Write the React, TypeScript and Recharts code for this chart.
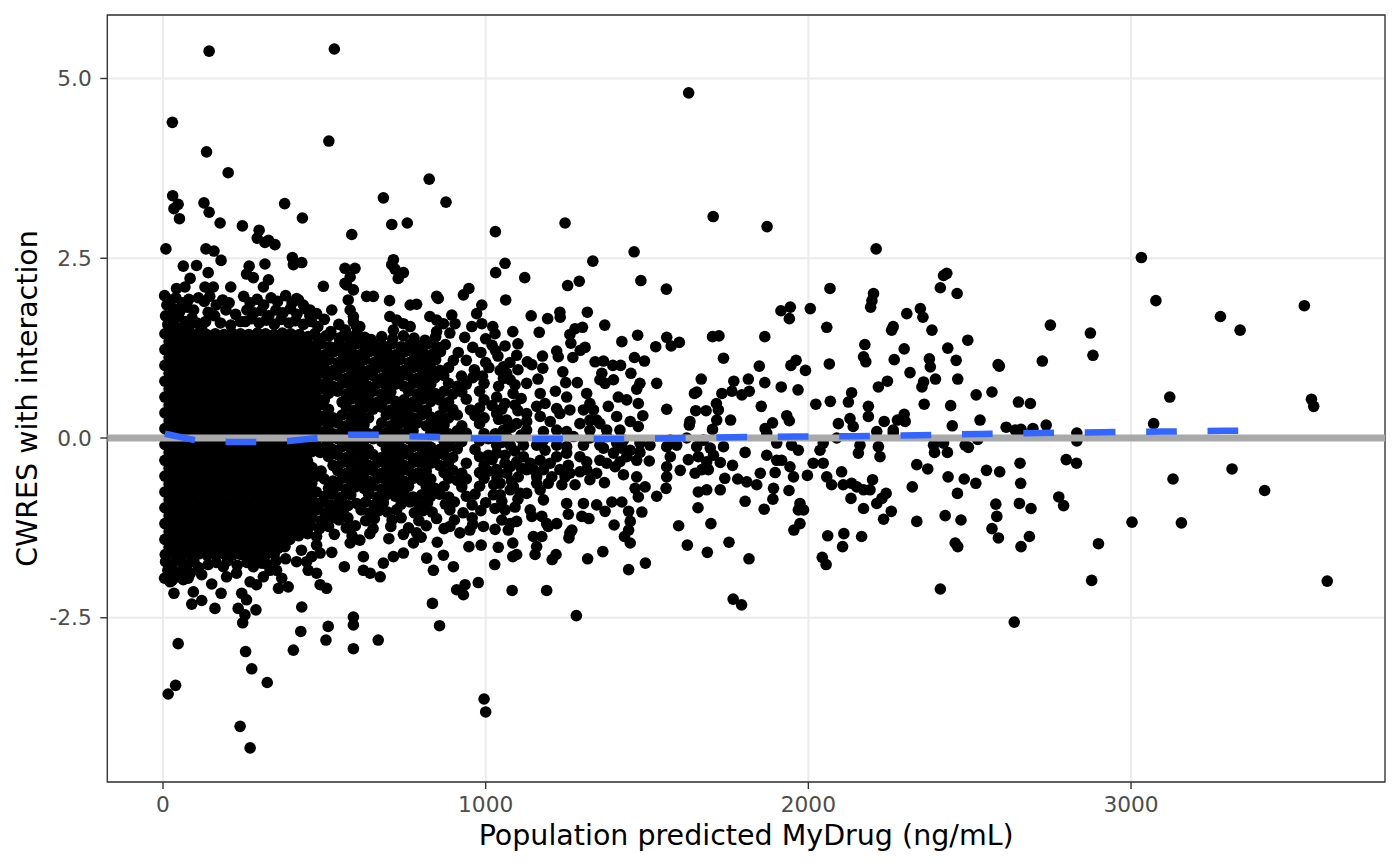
import React from 'react';
import { ComposedChart, Scatter, XAxis, YAxis, CartesianGrid, ReferenceArea, Label } from 'recharts';

type P = [number, number];

const xTicks = [0, 1000, 2000, 3000];
const xMinorTicks = [500, 1500, 2500, 3500];
const yTicks = [-2.5, 0, 2.5, 5];
const yMinorTicks = [-3.75, -1.25, 1.25, 3.75];
const xDomain: [number, number] = [-172.6, 3787];
const yDomain: [number, number] = [-4.784, 5.883];

const smoothX = [6, 100, 200, 290, 390, 480, 576, 672, 765, 861, 960, 1050, 1150, 1240, 1385, 1574, 1766, 1955, 2144, 2337, 2526, 2718, 2907, 3099, 3288, 3400];
const smoothY = [0.06, -0.03, -0.055, -0.055, -0.04, 0.0, 0.045, 0.045, 0.025, 0.015, -0.005, -0.01, -0.015, -0.015, -0.015, -0.005, 0.01, 0.02, 0.025, 0.04, 0.055, 0.07, 0.08, 0.09, 0.1, 0.105];
const zeroLineX = [-172.6, 3787];
const zeroLineY = [0, 0];

const pointsUpperTail: P[] = [
  [143,5.38],[531,5.41],[29,4.39],[514,4.13],[135,3.98],[202,3.69],[30,3.37],[47,3.25],[34,3.19],[51,3.05],[127,3.27],[143,3.14],[177,2.99],[246,2.95],[377,3.26],[432,3.06],[298,2.89],[292,2.78],[316,2.72],[347,2.69],[327,2.75],[9,2.63],[133,2.63],[158,2.60],[180,2.47],[63,2.39],[104,2.40],[140,2.30],[267,2.39],[259,2.28],[280,2.23],[316,2.42],[401,2.51],[430,2.44],[404,2.41],[210,2.10],[327,2.20],[311,2.10],[84,2.22],[68,2.10],[42,2.08],[130,2.10],[156,2.10],[497,2.11],[564,2.36],[595,2.36],[580,2.24],[569,2.13],[590,2.06],[585,2.83],[683,3.34],[709,2.97],[757,2.99],[825,3.60],[877,3.28],[714,2.48],[709,2.41],[719,2.35],[745,2.30],[729,2.22],[848,1.97],[853,1.94],[931,1.99],[948,2.08],[988,1.85],[702,1.91],[766,1.85],[786,1.86],[523,1.78],[476,1.73],[456,1.78],[435,1.85],[414,1.94]
];

const pointsUpperFringe: P[] = [
  [5,1.98],[22,1.92],[40,1.95],[60,1.88],[80,1.93],[12,1.85],[32,1.80],[52,1.76],[75,1.82],[95,1.78],[8,1.70],[28,1.66],[48,1.69],[68,1.62],[90,1.67],[15,1.58],[38,1.55],[58,1.52],[82,1.56],[105,1.60],[120,1.52],
  [110,1.95],[128,1.90],[145,1.97],[165,1.85],[185,1.92],[205,1.88],[140,1.75],[160,1.70],[195,1.78],[225,1.72],[132,1.62],[178,1.60],[210,1.57],[240,1.62],
  [250,1.97],[270,1.88],[292,1.93],[312,1.85],[335,1.95],[355,1.90],[380,1.98],[400,1.88],[420,1.92],[260,1.78],[282,1.74],[305,1.77],[328,1.70],[350,1.78],[372,1.74],[395,1.80],[415,1.72],[440,1.80],[255,1.62],[275,1.66],[298,1.60],[320,1.64],[345,1.58],[366,1.65],[390,1.60],[410,1.63],[435,1.58],[460,1.62],
  [455,1.70],[480,1.55],[500,1.65],[520,1.48],[545,1.58],[565,1.50],[590,1.62],[610,1.55],[470,1.45],[505,1.42],[560,1.42],[600,1.45],[625,1.40],
  [564,2.15],[574,1.92],[580,1.78],[590,1.69],[600,1.55],[631,1.97],[652,1.97],
  [703,1.69],[724,1.64],[745,1.59],[766,1.55],[714,1.50],
  [827,1.69],[848,1.64],[869,1.59],[895,1.71],[905,1.59],[848,1.48],[889,1.46],
  [972,1.73],[957,1.55],[988,1.59]
];

const pointsCoreUpper: P[] = [
  [6,1.45],[32,1.46],[57,1.44],[84,1.45],[110,1.46],[135,1.44],[162,1.45],[189,1.44],[214,1.46],[240,1.45],[266,1.44],[293,1.46],[318,1.45],[344,1.44],[370,1.46],[396,1.45],[423,1.44],
  [19,1.34],[45,1.33],[71,1.35],[97,1.34],[124,1.33],[149,1.35],[175,1.34],[202,1.33],[227,1.35],[253,1.34],[280,1.33],[305,1.35],[331,1.34],[357,1.33],[383,1.35],[410,1.34],[435,1.33],
  [6,1.23],[32,1.24],[58,1.22],[85,1.23],[110,1.24],[136,1.22],[163,1.23],[188,1.24],[214,1.22],[241,1.23],[266,1.24],[292,1.22],[319,1.23],[344,1.24],[370,1.22],[397,1.23],[422,1.24],[448,1.22],
  [19,1.12],[46,1.13],[71,1.11],[97,1.12],[123,1.13],[150,1.11],[175,1.12],[201,1.13],[228,1.11],[253,1.12],[279,1.13],[306,1.11],[331,1.12],[357,1.13],[384,1.11],[409,1.12],[435,1.13],[461,1.11],
  [6,1.01],[32,1.00],[58,1.02],[84,1.01],[111,1.00],[136,1.02],[162,1.01],[189,1.00],[214,1.02],[240,1.01],[267,1.00],[292,1.02],[318,1.01],[345,1.00],[370,1.02],[396,1.01],[423,1.00],[448,1.02],[474,1.01],
  [19,0.90],[45,0.91],[72,0.89],[97,0.90],[123,0.91],[149,0.89],[176,0.90],[201,0.91],[227,0.89],[254,0.90],[279,0.91],[305,0.89],[332,0.90],[357,0.91],[383,0.89],[410,0.90],[435,0.91],[461,0.89],[487,0.90],
  [6,0.79],[33,0.80],[58,0.78],[84,0.79],[110,0.80],[137,0.78],[162,0.79],[188,0.80],[215,0.78],[240,0.79],[266,0.80],[293,0.78],[318,0.79],[344,0.80],[371,0.78],[396,0.79],[422,0.80],[449,0.78],[474,0.79],
  [19,0.68],[45,0.67],[71,0.69],[98,0.68],[123,0.67],[149,0.69],[175,0.68],[202,0.67],[227,0.69],[253,0.68],[280,0.67],[305,0.69],[331,0.68],[358,0.67],[383,0.69],[409,0.68],[436,0.67],[461,0.69],[487,0.68],
  [6,0.57],[32,0.58],[59,0.56],[84,0.57],[110,0.58],[136,0.56],[163,0.57],[188,0.58],[214,0.56],[241,0.57],[266,0.58],[292,0.56],[319,0.57],[344,0.58],[370,0.56],[397,0.57],[422,0.58],[448,0.56],[475,0.57],
  [19,0.46],[46,0.47],[71,0.45],[97,0.46],[124,0.47],[149,0.45],[175,0.46],[202,0.47],[227,0.45],[253,0.46],[280,0.47],[305,0.45],[331,0.46],[358,0.47],[383,0.45],[409,0.46],[436,0.47],[461,0.45],[487,0.46],
  [6,0.35],[33,0.34],[58,0.36],[84,0.35],[111,0.34],[136,0.36],[162,0.35],[189,0.34],[214,0.36],[240,0.35],[267,0.34],[292,0.36],[318,0.35],[345,0.34],[370,0.36],[396,0.35],[423,0.34],[448,0.36],[474,0.35],
  [19,0.24],[45,0.25],[72,0.23],[97,0.24],[123,0.25],[150,0.23],[175,0.24],[201,0.25],[228,0.23],[253,0.24],[279,0.25],[306,0.23],[331,0.24],[357,0.25],[384,0.23],[409,0.24],[435,0.25],[462,0.23],[487,0.24],
  [6,0.13],[32,0.14],[58,0.12],[85,0.13],[110,0.14],[136,0.12],[163,0.13],[188,0.14],[214,0.12],[241,0.13],[266,0.14],[292,0.12],[319,0.13],[344,0.14],[370,0.12],[397,0.13],[422,0.14],[448,0.12],[475,0.13],
  [19,0.02],[45,0.01],[71,0.03],[98,0.02],[123,0.01],[149,0.03],[175,0.02],[202,0.01],[227,0.03],[253,0.02],[280,0.01],[305,0.03],[331,0.02],[358,0.01],[383,0.03],[409,0.02],[436,0.01],[461,0.03],[487,0.02]
];

const pointsCoreLower: P[] = [
  [6,-0.09],[32,-0.08],[58,-0.10],[84,-0.09],[110,-0.08],[137,-0.10],[162,-0.09],[188,-0.08],[215,-0.10],[240,-0.09],[266,-0.08],[293,-0.10],[318,-0.09],[344,-0.08],[371,-0.10],[396,-0.09],[422,-0.08],[449,-0.10],[474,-0.09],
  [19,-0.20],[46,-0.21],[71,-0.19],[97,-0.20],[124,-0.21],[149,-0.19],[175,-0.20],[202,-0.21],[227,-0.19],[253,-0.20],[280,-0.21],[305,-0.19],[331,-0.20],[358,-0.21],[383,-0.19],[409,-0.20],[436,-0.21],[461,-0.19],[487,-0.20],
  [6,-0.31],[33,-0.30],[58,-0.32],[84,-0.31],[111,-0.30],[136,-0.32],[162,-0.31],[189,-0.30],[214,-0.32],[240,-0.31],[267,-0.30],[292,-0.32],[318,-0.31],[345,-0.30],[370,-0.32],[396,-0.31],[423,-0.30],[448,-0.32],
  [19,-0.42],[45,-0.43],[72,-0.41],[97,-0.42],[123,-0.43],[150,-0.41],[175,-0.42],[201,-0.43],[228,-0.41],[253,-0.42],[279,-0.43],[306,-0.41],[331,-0.42],[357,-0.43],[384,-0.41],[409,-0.42],[435,-0.43],[462,-0.41],
  [6,-0.53],[32,-0.52],[58,-0.54],[85,-0.53],[110,-0.52],[136,-0.54],[163,-0.53],[188,-0.52],[214,-0.54],[241,-0.53],[266,-0.52],[292,-0.54],[319,-0.53],[344,-0.52],[370,-0.54],[397,-0.53],[422,-0.52],[448,-0.54],[475,-0.53],
  [19,-0.64],[45,-0.65],[71,-0.63],[98,-0.64],[123,-0.65],[149,-0.63],[175,-0.64],[202,-0.65],[227,-0.63],[253,-0.64],[280,-0.65],[305,-0.63],[331,-0.64],[358,-0.65],[383,-0.63],[409,-0.64],[436,-0.65],[461,-0.63],
  [6,-0.75],[32,-0.74],[59,-0.76],[84,-0.75],[110,-0.74],[136,-0.76],[163,-0.75],[188,-0.74],[214,-0.76],[241,-0.75],[266,-0.74],[292,-0.76],[319,-0.75],[344,-0.74],[370,-0.76],[397,-0.75],[422,-0.74],[448,-0.76],[475,-0.75],
  [19,-0.86],[46,-0.87],[71,-0.85],[97,-0.86],[124,-0.87],[149,-0.85],[175,-0.86],[202,-0.87],[227,-0.85],[253,-0.86],[280,-0.87],[305,-0.85],[331,-0.86],[358,-0.87],[383,-0.85],[409,-0.86],[436,-0.87],[461,-0.85],
  [6,-0.97],[33,-0.96],[58,-0.98],[84,-0.97],[111,-0.96],[136,-0.98],[162,-0.97],[189,-0.96],[214,-0.98],[240,-0.97],[267,-0.96],[292,-0.98],[318,-0.97],[345,-0.96],[370,-0.98],[396,-0.97],[423,-0.96],[448,-0.98],
  [19,-1.08],[45,-1.09],[72,-1.07],[97,-1.08],[123,-1.09],[150,-1.07],[175,-1.08],[201,-1.09],[228,-1.07],[253,-1.08],[279,-1.09],[306,-1.07],[331,-1.08],[357,-1.09],[384,-1.07],[409,-1.08],[435,-1.09],
  [6,-1.19],[32,-1.18],[58,-1.20],[85,-1.19],[110,-1.18],[136,-1.20],[163,-1.19],[188,-1.18],[214,-1.20],[241,-1.19],[266,-1.18],[292,-1.20],[319,-1.19],[344,-1.18],[370,-1.20],[397,-1.19],[421,-1.18],
  [19,-1.30],[46,-1.31],[71,-1.29],[97,-1.30],[124,-1.31],[149,-1.29],[175,-1.30],[202,-1.31],[227,-1.29],[253,-1.30],[280,-1.31],[305,-1.29],[331,-1.30],[358,-1.31],[383,-1.29],[406,-1.30],
  [6,-1.41],[33,-1.40],[58,-1.42],[84,-1.41],[111,-1.40],[136,-1.42],[162,-1.41],[189,-1.40],[214,-1.42],[240,-1.41],[267,-1.40],[292,-1.42],[318,-1.41],[345,-1.40],[370,-1.42],[393,-1.41],
  [19,-1.52],[45,-1.53],[72,-1.51],[97,-1.52],[123,-1.53],[150,-1.51],[175,-1.52],[201,-1.53],[228,-1.51],[253,-1.52],[279,-1.53],[306,-1.51],[331,-1.52],[357,-1.53],[378,-1.51],
  [7,-1.62],[33,-1.61],[59,-1.63],[85,-1.62],[111,-1.61],[137,-1.63],[163,-1.62],[189,-1.61],[215,-1.63],[241,-1.62],[267,-1.61],[293,-1.63],[319,-1.62],[345,-1.61],
  [8,-1.72],[30,-1.75],[52,-1.70],[75,-1.76],[96,-1.72],[15,-1.84],[40,-1.87],[62,-1.82],[85,-1.88],[110,-1.80],[5,-1.95],[28,-1.98],[50,-1.93],[120,-1.90],[140,-1.76],[165,-1.73],[200,-1.71],[230,-1.77],[260,-1.73],[290,-1.69],[320,-1.75],[350,-1.71],[380,-1.68]
];

const pointsBandUpper: P[] = [
  [450,1.41],[482,1.38],[514,1.42],[546,1.39],[578,1.41],[612,1.40],[645,1.37],[678,1.41],[712,1.38],[745,1.42],[778,1.39],[812,1.36],[845,1.41],[935,1.40],[1000,1.38],
  [462,1.28],[490,1.31],[517,1.27],[545,1.30],[572,1.28],[600,1.31],[627,1.27],[655,1.30],[683,1.28],[710,1.31],[738,1.27],[765,1.30],[793,1.28],[820,1.31],[848,1.27],[875,1.30],[960,1.26],[1020,1.29],
  [475,1.19],[503,1.16],[530,1.20],[558,1.17],[585,1.19],[612,1.16],[640,1.20],[668,1.17],[695,1.19],[723,1.16],[750,1.20],[778,1.17],[805,1.19],[833,1.16],[860,1.20],[915,1.19],[985,1.19],
  [488,1.06],[515,1.09],[543,1.05],[570,1.08],[598,1.06],[625,1.09],[653,1.05],[680,1.08],[708,1.06],[735,1.09],[763,1.05],[790,1.08],[818,1.06],[845,1.09],[900,1.08],[940,1.08],[1000,1.05],
  [500,0.97],[528,0.94],[555,0.98],[583,0.95],[610,0.97],[638,0.94],[665,0.98],[693,0.95],[720,0.97],[748,0.94],[775,0.98],[803,0.95],[830,0.97],[858,0.94],[885,0.98],[965,0.95],[1010,0.98],
  [513,0.84],[540,0.87],[568,0.83],[595,0.86],[623,0.84],[650,0.87],[678,0.83],[705,0.86],[733,0.84],[760,0.87],[788,0.83],[815,0.86],[843,0.84],[870,0.87],[925,0.86],[960,0.84],[990,0.86]
];

const pointsBandMiddle: P[] = [
  [500,0.75],[527,0.72],[555,0.76],[582,0.73],[610,0.75],[637,0.72],[665,0.76],[692,0.73],[720,0.75],[747,0.72],[775,0.76],[802,0.73],[830,0.75],[885,0.76],[912,0.72],[940,0.75],[995,0.76],
  [513,0.62],[541,0.65],[568,0.61],[596,0.64],[623,0.62],[651,0.65],[678,0.61],[706,0.64],[761,0.65],[788,0.61],[816,0.64],[843,0.62],[871,0.65],[898,0.61],[926,0.64],[981,0.65],
  [500,0.53],[555,0.50],[582,0.54],[610,0.51],[637,0.53],[665,0.50],[692,0.54],[720,0.51],[747,0.53],[775,0.50],[802,0.54],[830,0.51],[857,0.53],[885,0.50],[940,0.54],[995,0.53],
  [513,0.40],[568,0.43],[596,0.39],[623,0.42],[651,0.40],[678,0.43],[706,0.39],[733,0.42],[761,0.40],[788,0.43],[816,0.39],[871,0.42],[898,0.40],[953,0.39],[981,0.42],
  [500,0.31],[527,0.28],[555,0.32],[582,0.29],[610,0.31],[637,0.28],[692,0.32],[720,0.29],[747,0.31],[775,0.28],[802,0.32],[830,0.29],[857,0.31],[885,0.28],[912,0.32],[967,0.31],[995,0.28],
  [513,0.18],[541,0.21],[568,0.17],[596,0.20],[623,0.18],[678,0.21],[706,0.17],[733,0.20],[761,0.18],[788,0.21],[816,0.17],[843,0.20],[871,0.18],[926,0.17],[981,0.20],
  [500,0.09],[527,0.06],[555,0.10],[582,0.07],[610,0.09],[637,0.06],[665,0.10],[692,0.07],[720,0.09],[747,0.06],[775,0.10],[830,0.07],[857,0.09],[885,0.06],[912,0.10],[940,0.07],[995,0.06],
  [513,-0.04],[541,-0.01],[568,-0.05],[596,-0.02],[623,-0.04],[651,-0.01],[678,-0.05],[706,-0.02],[733,-0.04],[761,-0.01],[788,-0.05],[816,-0.02],[871,-0.04],[898,-0.01],[926,-0.05],[981,-0.04],[1008,-0.01],
  [500,-0.13],[527,-0.16],[555,-0.12],[582,-0.15],[610,-0.13],[637,-0.16],[692,-0.15],[720,-0.13],[747,-0.16],[775,-0.12],[802,-0.15],[830,-0.13],[857,-0.16],[885,-0.12],[912,-0.15],[967,-0.16],
  [513,-0.26],[541,-0.23],[568,-0.27],[596,-0.24],[623,-0.26],[651,-0.23],[678,-0.27],[706,-0.24],[733,-0.26],[761,-0.23],[788,-0.27],[816,-0.24],[843,-0.26],[871,-0.23],[898,-0.27],[981,-0.26],[1008,-0.24],
  [527,-0.38],[555,-0.34],[582,-0.37],[610,-0.35],[637,-0.38],[665,-0.34],[692,-0.37],[720,-0.35],[747,-0.38],[775,-0.34],[802,-0.37],[830,-0.35],[857,-0.38],[885,-0.34],[940,-0.35],[995,-0.38],
  [490,-0.46],[541,-0.45],[568,-0.49],[596,-0.46],[623,-0.48],[651,-0.45],[678,-0.49],[706,-0.46],[733,-0.48],[761,-0.45],[788,-0.49],[816,-0.46],[871,-0.48],[898,-0.45],[926,-0.49],[981,-0.48],[1008,-0.46],
  [500,-0.57],[527,-0.60],[555,-0.56],[582,-0.59],[610,-0.57],[637,-0.60],[665,-0.56],[692,-0.59],[720,-0.57],[747,-0.60],[775,-0.56],[802,-0.59],[830,-0.57],[885,-0.56],[912,-0.59],[940,-0.57],[995,-0.56],
  [513,-0.70],[541,-0.67],[568,-0.71],[596,-0.68],[623,-0.70],[651,-0.67],[678,-0.71],[706,-0.68],[733,-0.70],[761,-0.67],[816,-0.68],[843,-0.70],[871,-0.67],[926,-0.68],[981,-0.67],
  [500,-0.81],[527,-0.78],[555,-0.82],[582,-0.79],[637,-0.78],[665,-0.82],[692,-0.79],[720,-0.81],[747,-0.78],[775,-0.82],[802,-0.79],[830,-0.81],[857,-0.78],[885,-0.82],[940,-0.81],[967,-0.78],
  [1030,1.22],[1075,1.05],[1100,0.95],[1040,0.72],[1085,0.62],[1110,0.55],[1020,0.45],[1050,0.40],[1100,0.38],[1040,0.26],[1080,0.15],[1110,0.04],[1030,0.06],[1050,-0.06],[1090,-0.18],[1020,-0.30],[1060,-0.35],[1110,-0.42],[1035,-0.55],[1080,-0.60],[1100,-0.85],[1050,-0.88],[1025,-0.65]
];

const pointsBandLower: P[] = [
  [462,-0.92],[490,-0.90],[518,-0.93],[545,-0.90],[573,-0.94],[600,-0.91],[628,-0.89],[655,-0.93],[683,-0.90],[738,-0.92],[765,-0.89],[793,-0.93],[820,-0.90],[875,-0.92],[903,-0.89],[958,-0.93],[1000,-0.90],
  [448,-1.03],[476,-1.00],[503,-1.04],[531,-1.01],[558,-1.03],[614,-1.00],[641,-1.04],[669,-1.01],[696,-1.03],[724,-1.00],[779,-1.04],[806,-1.01],[834,-1.03],[889,-1.00],[930,-1.04],[985,-1.01],
  [440,-1.14],[462,-1.11],[490,-1.15],[518,-1.12],[545,-1.14],[573,-1.11],[628,-1.15],[655,-1.12],[710,-1.14],[738,-1.11],[793,-1.15],[848,-1.12],[903,-1.14],[958,-1.11],
  [430,-1.25],[458,-1.22],[485,-1.26],[513,-1.23],[568,-1.25],[596,-1.22],[651,-1.26],[706,-1.23],[761,-1.25],[816,-1.22],[871,-1.26],[960,-1.20],
  [420,-1.36],[448,-1.33],[476,-1.37],[531,-1.34],[586,-1.36],[641,-1.33],[700,-1.40],[745,-1.34],[800,-1.38],[850,-1.45]
];

const pointsLowerTail: P[] = [
  [47,-2.86],[16,-3.56],[39,-3.44],[239,-4.01],[270,-4.31],[256,-2.97],[275,-3.21],[323,-3.40],[404,-2.95],[427,-2.69],[430,-2.35],[512,-2.62],[505,-2.81],[590,-2.49],[590,-2.60],[590,-2.93],[667,-2.81],[835,-2.30],[857,-2.61],[995,-3.63],[1000,-3.81],
  [562,-1.79],[523,-1.59],[476,-1.49],[429,-1.56],[414,-1.72],[450,-1.84],[476,-1.88],[487,-2.04],[507,-2.09],[388,-2.07],[358,-2.09],[290,-2.04],[270,-2.00],[244,-2.16],[259,-2.25],[288,-2.39],[233,-2.37],[254,-2.46],[247,-2.57],[161,-2.37],[180,-2.16],[151,-2.03],[89,-2.31],[120,-2.26],[94,-2.14],[34,-2.16],[22,-2.00],[63,-1.97],[78,-1.95],[197,-1.93],[228,-1.88],[187,-1.79],[311,-1.93],[280,-1.79],[306,-1.74],[332,-1.84],[352,-1.84],[368,-1.95],[461,-1.65],[487,-1.60],[445,-1.72],
  [580,-1.46],[610,-1.42],[621,-1.65],[642,-1.88],[673,-1.93],[621,-1.84],[683,-1.74],[714,-1.65],[745,-1.60],[776,-1.46],[786,-1.32],[817,-1.67],[838,-1.84],[869,-1.63],[900,-1.79],[910,-2.11],[936,-2.04],[931,-2.18],[977,-2.01],[948,-1.51],[986,-1.49],[920,-1.32],[951,-1.28],[993,-1.23],[889,-1.23]
];

const pointsMidRange: P[] = [
  [1629,4.80],[1705,3.08],[1872,2.94],[2210,2.63],[1246,2.99],[1030,2.87],[1460,2.59],[1332,2.46],[1060,2.43],[1031,2.30],[1121,2.23],[1254,2.12],[1290,2.18],[1481,2.19],[1560,2.07],[1062,1.92],[2067,2.08],[2202,2.01],[2197,1.91],[2193,1.82],[1915,1.77],[1944,1.82],[1941,1.66],[2006,1.80],[1141,1.70],[1192,1.66],[1230,1.75],[1231,1.68],[1315,1.75],[1369,1.57],[1166,1.47],[1084,1.48],[1022,1.55],[1029,1.45],[1060,1.28],[1100,1.31],[1261,1.44],[1277,1.52],[1300,1.54],[1264,1.32],[1422,1.34],[1471,1.43],[1561,1.40],[1575,1.28],[1600,1.33],[1703,1.41],[1723,1.42],[1865,1.41],[2057,1.54],[2258,1.50],[2263,1.55],[2175,1.30],[1527,1.27],
  [1038,1.14],[1096,1.15],[1176,1.14],[1220,1.21],[1225,1.13],[1293,1.22],[1308,1.26],[1270,1.12],[1737,1.11],[2171,1.13],[2178,1.06],[2266,1.09],[2065,1.03],[1962,1.08],[1946,1.01],[1991,0.94],[1848,1.00],[1129,1.06],[1143,1.02],[1177,0.97],[1339,1.06],[1365,1.07],[1394,1.01],[1418,1.01],[1461,1.12],[1492,1.07],[1450,0.90],[1360,0.90],[1239,0.92],[1045,0.94],[1055,0.83],[1162,0.82],[1668,0.82],[1769,0.79],[1814,0.82],[1865,0.77],[1530,0.76],[1916,0.71],[1968,0.67],[2217,0.71],[2245,0.79],[2134,0.63],[2124,0.50],[2068,0.51],[2023,0.47],[1647,0.62],[1654,0.64],[1732,0.62],[1763,0.65],[1794,0.60],[1817,0.65],[1248,0.77],[1284,0.77],[1216,0.65],[1478,0.76],[1468,0.68],[1127,0.76],[1561,0.40],[1487,0.31],[1715,0.48],[1721,0.39],[1651,0.38],[1683,0.38],[1854,0.44],[1933,0.31],[1941,0.24],[1889,0.21],[1866,0.13],[1759,0.25],[1716,0.25],[1633,0.23],[1631,0.18],[1703,0.12],[2093,0.20],[2129,0.27],[2139,0.16],[2186,0.44],[2186,0.30],[2235,0.23],[2263,0.11],[2276,0.25],[2212,0.09],
  [1055,0.99],[1065,0.90],[1076,0.81],[1091,0.74],[1169,0.62],[1251,0.57],[1313,0.62],[1323,0.48],[1354,0.81],[1370,0.76],[1396,0.81],[1411,0.57],[1437,0.53],[1473,0.48],[1034,0.57],[1060,0.48],[1091,0.46],[1127,0.34],[1158,0.44],[1184,0.48],[1220,0.41],[1230,0.34],[1261,0.39],[1303,0.39],[1334,0.39],[1344,0.25],[1380,0.44],[1406,0.30],[1448,0.23],[1473,0.16],[1034,0.34],[1065,0.25],[1096,0.20],[1127,0.23],[1169,0.30],[1200,0.23],[1220,0.11],[1251,0.09],[1292,0.20],[1323,0.11],[1375,0.11],[1416,0.11],[1055,0.11],[1127,0.11],[1179,0.09],[1354,0.20],[1323,0.25]
];

const pointsMidRangeLow: P[] = [
  [1804,-0.20],[1765,-0.38],[1603,-0.45],[1561,-0.40],[1572,-0.26],[1628,-0.30],[1659,-0.26],[1685,-0.33],[1706,-0.24],[1727,-0.34],[1649,-0.49],[1670,-0.44],[1690,-0.44],[1659,-0.75],[1685,-0.72],[1727,-0.72],[1741,-0.56],[1781,-0.57],[1809,-0.61],[1840,-0.65],[1851,-0.49],[1658,-0.97],[1698,-1.19],[1598,-1.22],[1625,-1.49],[1687,-1.59],[1754,-1.45],[1816,-1.68],[1804,-0.88],[1863,-0.99],[1892,-0.70],[1890,-0.85],[1897,-0.48],[1871,-0.24],[1902,-0.31],[1917,-0.31],[1943,-0.40],[1954,-0.54],[1940,-0.73],[1997,-0.52],[1974,-0.91],[1985,-1.00],[1969,-1.00],[1974,-1.19],[1955,-1.28],[2015,-0.35],[2046,-0.35],[2036,-0.17],[2057,-0.54],[2072,-0.65],[2103,-0.47],[2108,-0.65],[2134,-0.63],[2150,-0.68],[2171,-0.72],[2191,-0.72],[2199,-0.58],[2132,-0.84],[2171,-0.98],[2212,-0.91],[2228,-0.84],[2241,-0.77],[2257,-1.02],[2233,-1.13],[2155,-0.21],[2160,-0.10],[2222,-0.26],[2217,-0.12],[2060,-1.36],[2110,-1.33],[2106,-1.51],[2165,-1.37],[2043,-1.66],[2055,-1.76],[1767,-2.24],[1793,-2.32],
  [1495,-1.74],[1443,-1.83],[1363,-1.58],[1316,-1.68],[1281,-2.47],[1189,-2.12],[1082,-2.12],[1206,-1.69],[1218,-1.62],[1153,-1.62],[1158,-1.51],[1174,-1.37],[1148,-1.37],[1084,-1.46],[1039,-1.52],[1084,-1.65],[1096,-1.62],[1028,-1.76],[1258,-1.39],[1267,-1.28],[1261,-1.32],[1398,-1.21],[1430,-1.37],[1448,-1.46],[1443,-1.28],[1484,-1.03],[1473,-0.82],[1530,-0.81],[1559,-0.70],[1561,-0.54],[1507,-0.32],[1478,-0.20],[1303,-0.91],[1251,-0.91],[1256,-1.06],[1298,-1.09],[1320,-1.12],[1344,-0.93],[1370,-1.02],[1391,-0.89],[1422,-0.89],[1443,-1.02],[1448,-1.16],[1220,-1.19],[1194,-1.23],[1368,-0.62],[1468,-0.54],[1463,-0.70],[1494,-0.68],[1401,-0.40],[1427,-0.51],[1437,-0.26],[1416,-0.33],[1354,-0.31],[1365,-0.14],[1292,-0.26],[1313,-0.44],[1251,-0.21],[1256,-0.38],[1246,-0.54],[1277,-0.65],[1236,-0.65],[1323,-0.58],[1169,-0.72],[1179,-0.86],[1194,-0.63],[1205,-0.54],[1158,-0.54],[1138,-1.00],[1143,-1.09],[1174,-1.09],[1189,-1.19],[1091,-0.96],[1060,-1.00],[1029,-0.98],[1050,-1.14],[1076,-1.19],[1096,-1.16],[1029,-1.27],[1070,-1.28],[1086,-0.68],[1045,-0.63],[1024,-0.79],[1045,-0.79],
  [1034,-0.21],[1060,-0.24],[1096,-0.33],[1117,-0.26],[1138,-0.35],[1169,-0.31],[1200,-0.35],[1220,-0.26],[1184,-0.17],[1034,-0.44],[1065,-0.49],[1101,-0.54],[1127,-0.44],[1076,-0.40],[1148,-0.44],[1158,-0.63],[1127,-0.77],[1107,-0.77],[1076,-0.72],[1179,-0.44],[1230,-0.44],[1261,-0.49],[1292,-0.47],[1313,-0.33],[1344,-0.49],[1375,-0.35],[1396,-0.21],[1422,-0.14],[1448,-0.17],[1468,-0.31],[1251,-0.12],[1303,-0.10],[1354,-0.10],[1406,-0.07],[1220,-0.10],[1158,-0.10],[1117,-0.10],[1076,-0.10],[1034,-0.10],[1179,-0.03],[1107,0.00],[1065,0.02],[1272,0.02],[1323,0.00],[1375,0.02],[1427,-0.03],[1478,-0.07],[1509,-0.10],[1561,-0.12],[1592,-0.10],[1654,-0.12],[1696,-0.14],[1737,-0.12],[1675,-0.03],[1623,0.00],[1572,-0.03],[1871,0.07],[1902,-0.07],[1948,-0.10],[1969,-0.17],[2046,-0.07],[2088,0.00],[2263,0.07]
];

const pointsHighRange: P[] = [
  [3032,2.51],[3077,1.91],[3277,1.69],[3338,1.50],[3537,1.84],[3559,0.54],[3566,0.44],[3120,0.57],[3070,0.20],[3313,-0.43],[3130,-0.57],[3414,-0.73],[3003,-1.17],[3156,-1.18],[3608,-1.99],[2878,-1.98],[2638,-2.56],[2899,-1.47],[2409,-2.10],
  [2419,2.26],[2429,2.29],[2409,2.09],[2461,2.01],[2347,1.80],[2305,1.73],[2355,1.68],[2383,1.50],[2494,1.36],[2297,1.24],[2432,1.25],[2750,1.57],[2874,1.46],[2882,1.15],[2725,1.07],[2375,1.10],[2378,0.99],[2458,1.08],[2315,0.91],[2588,1.02],[2592,1.00],[2394,0.82],[2463,0.82],[2357,0.78],[2352,0.71],[2520,0.60],[2569,0.64],[2359,0.47],[2441,0.45],[2651,0.50],[2688,0.48],[2297,0.33],[2300,0.23],[2446,0.17],[2532,0.25],[2613,0.15],[2641,0.11],[2659,0.12],[2696,0.13],[2737,0.18],[2832,0.07],[2832,-0.04],
  [2388,-0.10],[2419,-0.07],[2391,-0.20],[2431,-0.20],[2486,-0.10],[2496,-0.13],[2525,-0.02],[2336,-0.37],[2370,-0.43],[2433,-0.54],[2483,-0.57],[2519,-0.63],[2552,-0.45],[2593,-0.47],[2656,-0.35],[2799,-0.30],[2831,-0.35],[2322,-0.68],[2462,-0.77],[2658,-0.63],[2581,-0.92],[2654,-0.91],[2690,-0.98],[2776,-0.82],[2791,-0.94],[2424,-1.08],[2473,-1.14],[2336,-1.16],[2584,-1.09],[2569,-1.26],[2589,-1.39],[2659,-1.51],[2685,-1.37],[2455,-1.46],[2463,-1.51]
];

const toXY = (arr: P[]) => arr.map(([x, y]) => ({ x, y }));

const scatterData = toXY([
  ...pointsUpperTail, ...pointsUpperFringe, ...pointsCoreUpper, ...pointsCoreLower,
  ...pointsBandUpper, ...pointsBandMiddle, ...pointsBandLower, ...pointsLowerTail,
  ...pointsMidRange, ...pointsMidRangeLow, ...pointsHighRange,
]);
const smoothData = smoothX.map((x, i) => ({ x, y: smoothY[i] }));
const zeroData = zeroLineX.map((x, i) => ({ x, y: zeroLineY[i] }));

const Dot = (props: any) =>
  props.cx == null || props.cy == null ? <g /> : <circle cx={props.cx} cy={props.cy} r={5.8} fill="#000000" />;
const NoDot = () => <g />;

const minorCoords = (axis: any, values: number[]) =>
  axis && typeof axis.scale === 'function' ? values.map((v) => axis.scale(v)) : [];

const XTitle = (props: any) => {
  const vb = props.viewBox || { x: 107.3, y: 782, width: 1277.7, height: 84 };
  return (
    <text x={vb.x + vb.width / 2} y={vb.y + vb.height - 21} textAnchor="middle" fill="#000000"
      style={{ fontSize: 28.5, fontFamily: 'DejaVu Sans' }}>
      Population predicted MyDrug (ng/mL)
    </text>
  );
};

const YTitle = (props: any) => {
  const vb = props.viewBox || { x: 0, y: 15, width: 107.3, height: 767 };
  const cx = (vb.x || 0) + 36.5;
  const cy = vb.y + vb.height / 2;
  return (
    <text transform={`translate(${cx}, ${cy}) rotate(-90)`} x={0} y={0} textAnchor="middle" fill="#000000"
      style={{ fontSize: 28.5, fontFamily: 'DejaVu Sans' }}>
      CWRES with interaction
    </text>
  );
};

const tickStyle = { fill: '#4D4D4D', fontSize: 21.7, fontFamily: 'DejaVu Sans' };

export default function App() {
  return (
    <div style={{ position: 'absolute', left: 0, top: 0, width: 1400, height: 866, background: '#ffffff' }}>
      <ComposedChart width={1400} height={866} margin={{ top: 15, right: 15, bottom: 0, left: 0 }}>
        <CartesianGrid
          stroke="#F0F0F0"
          strokeWidth={1.1}
          verticalCoordinatesGenerator={(args: any) => minorCoords(args.xAxis, xMinorTicks)}
          horizontalCoordinatesGenerator={(args: any) => minorCoords(args.yAxis, yMinorTicks)}
        />
        <CartesianGrid stroke="#EBEBEB" strokeWidth={2} />
        <XAxis
          type="number"
          dataKey="x"
          domain={xDomain}
          ticks={xTicks}
          allowDataOverflow
          interval={0}
          height={84}
          tickSize={7}
          tickMargin={8}
          axisLine={false}
          tickLine={{ stroke: '#333333', strokeWidth: 1.4 }}
          tick={tickStyle}
        >
          <Label content={XTitle} />
        </XAxis>
        <YAxis
          type="number"
          dataKey="y"
          domain={yDomain}
          ticks={yTicks}
          allowDataOverflow
          interval={0}
          width={107.3}
          tickSize={7}
          tickMargin={8.6}
          axisLine={false}
          tickLine={{ stroke: '#333333', strokeWidth: 1.4 }}
          tick={tickStyle}
          tickFormatter={(v: number) => v.toFixed(1)}
        >
          <Label content={YTitle} />
        </YAxis>
        <ReferenceArea
          x1={xDomain[0]}
          x2={xDomain[1]}
          y1={yDomain[0]}
          y2={yDomain[1]}
          fill="none"
          fillOpacity={0}
          stroke="#333333"
          strokeWidth={1.3}
          ifOverflow="visible"
        />
        <Scatter data={scatterData} shape={Dot} isAnimationActive={false} fill="#000000" />
        <Scatter data={zeroData} shape={NoDot} fill="#A9A9A9" line={{ stroke: '#A9A9A9', strokeWidth: 7 }} lineType="joint" isAnimationActive={false} />
        <Scatter data={smoothData} shape={NoDot} fill="#3366FF" line={{ stroke: '#3366FF', strokeWidth: 6.5, strokeDasharray: '30.7 30.7' }} lineType="joint" isAnimationActive={false} />
      </ComposedChart>
    </div>
  );
}
